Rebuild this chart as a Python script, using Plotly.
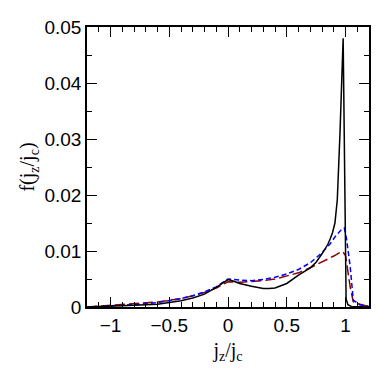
import plotly.graph_objects as go

# black solid
x_black = [-1.2, -1.0, -0.8, -0.6, -0.5, -0.4, -0.3, -0.2, -0.1, -0.05, 0.0, 0.05, 0.1, 0.2, 0.3, 0.35,
           0.4, 0.5, 0.6, 0.7, 0.75, 0.8, 0.85, 0.87, 0.89, 0.91, 0.93, 0.953, 0.967, 0.98, 1.005, 1.02, 1.05, 1.2]
y_black = [0.0, 0.0001, 0.0003, 0.0005, 0.0008, 0.0011, 0.0016, 0.0023, 0.0035, 0.0042, 0.0049, 0.0046,
           0.0042, 0.0037, 0.0033, 0.0033, 0.0034, 0.0042, 0.0057, 0.0070, 0.0080, 0.0095, 0.0112, 0.0122,
           0.0133, 0.0150, 0.0191, 0.031, 0.040, 0.048, 0.0015, 0.0004, 0.0001, 0.0]

# blue short dash
x_blue = [-1.2, -1.0, -0.8, -0.6, -0.5, -0.4, -0.3, -0.2, -0.1, 0.0, 0.1, 0.2, 0.3, 0.4, 0.5, 0.6,
          0.7, 0.8, 0.87, 0.92, 0.96, 0.99, 1.01, 1.04, 1.066, 1.12, 1.2]
y_blue = [0.0, 0.0002, 0.0004, 0.0008, 0.0011, 0.0015, 0.0020, 0.0027, 0.0036, 0.0050, 0.0048, 0.0047,
          0.0049, 0.0053, 0.0059, 0.0067, 0.0079, 0.0097, 0.0113, 0.0128, 0.0137, 0.0141, 0.0120, 0.0072,
          0.00125, 0.0004, 0.0001]

# dark red long dash
x_red = [-1.2, -1.0, -0.8, -0.6, -0.5, -0.4, -0.3, -0.2, -0.1, 0.0, 0.1, 0.2, 0.3, 0.4, 0.5, 0.6,
         0.7, 0.8, 0.85, 0.9, 0.95, 0.976, 1.0, 1.04, 1.066, 1.1, 1.18, 1.2]
y_red = [0.0, 0.0003, 0.0005, 0.0009, 0.0012, 0.0015, 0.0020, 0.0026, 0.0034, 0.0045, 0.0044, 0.0045,
         0.0047, 0.0050, 0.0055, 0.0061, 0.0070, 0.0080, 0.0085, 0.0091, 0.0097, 0.0099, 0.0092, 0.0036,
         0.00095, 0.0006, 0.0002, 0.0002]

fig = go.Figure()
fig.add_trace(go.Scatter(x=x_red, y=y_red, mode="lines",
                         line=dict(color="#8b0000", width=1.5, dash="10px,4px")))
fig.add_trace(go.Scatter(x=x_blue, y=y_blue, mode="lines",
                         line=dict(color="#0000ff", width=1.5, dash="5px,3px")))
fig.add_trace(go.Scatter(x=x_black, y=y_black, mode="lines",
                         line=dict(color="black", width=1.5)))

axis_common = dict(showgrid=False, zeroline=False, showline=True, linecolor="black", linewidth=1.5,
                   mirror="allticks", ticks="inside", ticklen=10, tickwidth=1, tickcolor="black",
                   automargin=False,
                   tickfont=dict(family="Liberation Sans, Arial", size=19, color="black"))

fig.update_xaxes(range=[-1.2, 1.2], tickvals=[-1, -0.5, 0, 0.5, 1], ticktext=["\u22121", "\u22120.5", "0", "0.5", "1"],
                 minor=dict(dtick=0.1, tick0=0, ticks="inside", ticklen=5, tickcolor="black"),
                 title=dict(text="j<sub>z</sub>/j<sub>c</sub>", font=dict(family="Liberation Serif, Times New Roman", size=20, color="black"), standoff=8),
                 **axis_common)
fig.update_yaxes(range=[0, 0.05], tickvals=[0, 0.01, 0.02, 0.03, 0.04, 0.05],
                 ticktext=["0", "0.01", "0.02", "0.03", "0.04", "0.05"],
                 minor=dict(dtick=0.005, tick0=0, ticks="inside", ticklen=5, tickcolor="black"),
                 title=dict(text="f(j<sub>z</sub>/j<sub>c</sub>)", font=dict(family="Liberation Serif, Times New Roman", size=20, color="black"), standoff=4),
                 **axis_common)

fig.update_layout(width=390, height=370, margin=dict(l=87, r=21, t=27, b=63),
                  plot_bgcolor="white", paper_bgcolor="white", showlegend=False)

fig.write_html("out.html", config={"displayModeBar": False},
               post_script="document.body.style.margin='0';")
